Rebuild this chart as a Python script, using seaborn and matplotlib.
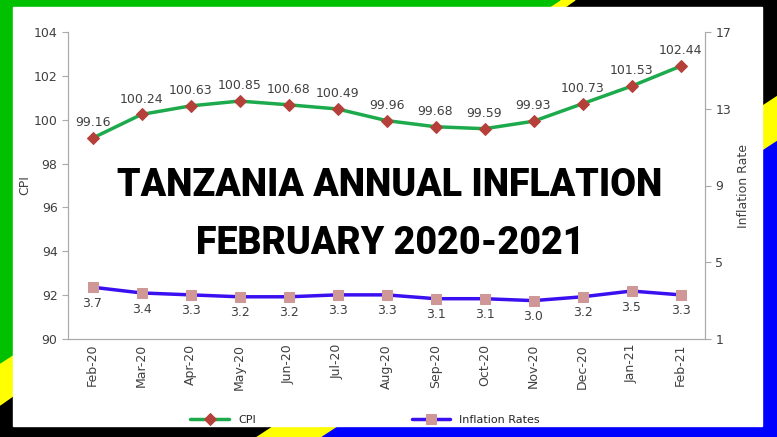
import matplotlib
matplotlib.use("Agg")
import matplotlib.pyplot as plt
import seaborn as sns
import pandas as pd
from matplotlib.patches import Polygon, Rectangle

months = ["Feb-20","Mar-20","Apr-20","May-20","Jun-20","Jul-20","Aug-20","Sep-20","Oct-20","Nov-20","Dec-20","Jan-21","Feb-21"]
cpi = [99.16,100.24,100.63,100.85,100.68,100.49,99.96,99.68,99.59,99.93,100.73,101.53,102.44]
infl = [3.7,3.4,3.3,3.2,3.2,3.3,3.3,3.1,3.1,3.0,3.2,3.5,3.3]
df = pd.DataFrame({"month": months, "CPI": cpi, "Inflation": infl})

sns.set_style("white")

W, H = 777, 437
fig = plt.figure(figsize=(W/100, H/100), dpi=100)

bg = fig.add_axes([0, 0, 1, 1], zorder=0)
bg.set_xlim(0, W); bg.set_ylim(H, 0); bg.axis("off")
bg.add_patch(Rectangle((0, 0), W, H, color="#0000ff"))
bg.add_patch(Polygon([(0, 0), (900, 0), (900, 60), (777, 140), (320, 437), (0, 437)], color="#ffff00"))
bg.add_patch(Polygon([(0, 0), (900, 0), (900, 15), (777, 95), (255, 437), (0, 437)], color="#000000"))
bg.add_patch(Polygon([(0, 0), (575, 0), (0, 405)], color="#ffff00"))
bg.add_patch(Polygon([(0, 0), (560, 0), (0, 363)], color="#00c000"))
bg.add_patch(Rectangle((13, 7), 749, 419, color="white"))

ax = fig.add_axes([68/W, (H-339)/H, (705-68)/W, (339-32)/H], zorder=2)
ax.patch.set_alpha(0)
x = list(range(len(months)))
sns.lineplot(x=x, y=df["CPI"], ax=ax, color="#1daa4c", lw=2.5, marker="D",
             markersize=6, markerfacecolor="#b5403a", markeredgecolor="#b5403a", label="CPI", legend=False)
ax.set_ylim(90, 104)
ax.set_yticks(range(90, 105, 2))
ax.set_xlim(-0.5, len(months)-0.5)
ax.set_xticks(x)
ax.set_xticklabels(months, rotation=90, fontsize=9, color="#404040")
ax.tick_params(axis="y", labelsize=9, colors="#404040", length=4, color="#aaaaaa")
ax.tick_params(axis="x", length=0)
ax.set_ylabel("CPI", fontsize=9, labelpad=2, color="#404040")
ax.set_xlabel("")
for i, v in enumerate(cpi):
    ax.text(i, v + 0.4, f"{v:.2f}", ha="center", va="bottom", fontsize=9, color="#404040")

ax2 = ax.twinx()
sns.lineplot(x=x, y=df["Inflation"], ax=ax2, color="#3a10f0", lw=2.5, marker="s",
             markersize=7, markerfacecolor="#cf9896", markeredgecolor="#cf9896", label="Inflation Rates", legend=False)
ax2.set_ylim(1, 17)
ax2.set_yticks([1, 5, 9, 13, 17])
ax2.tick_params(axis="y", labelsize=9, colors="#404040", length=4, color="#aaaaaa")
ax2.set_ylabel("Inflation Rate", fontsize=9, color="#404040")
for i, v in enumerate(infl):
    ax2.text(i, v - 0.5, f"{v:.1f}", ha="center", va="top", fontsize=9, color="#404040")

for a in (ax, ax2):
    for s in a.spines.values():
        s.set_color("#aaaaaa")
    a.spines["top"].set_visible(False)

h1, l1 = ax.get_legend_handles_labels()
h2, l2 = ax2.get_legend_handles_labels()
fig.legend(h1 + h2, ["CPI", "Inflation Rates"], loc="center", bbox_to_anchor=(0.47, (H-420)/H),
           ncol=2, frameon=False, fontsize=8, columnspacing=14, handlelength=3.5)

for txt, yy in [("TANZANIA ANNUAL INFLATION", 185), ("FEBRUARY 2020-2021", 243)]:
    fig.text(390/W, (H-yy)/H, txt, ha="center", va="center", color="black",
             fontsize=27, fontweight="heavy", family="Roboto", zorder=5)

fig.savefig("out.png", dpi=100)
